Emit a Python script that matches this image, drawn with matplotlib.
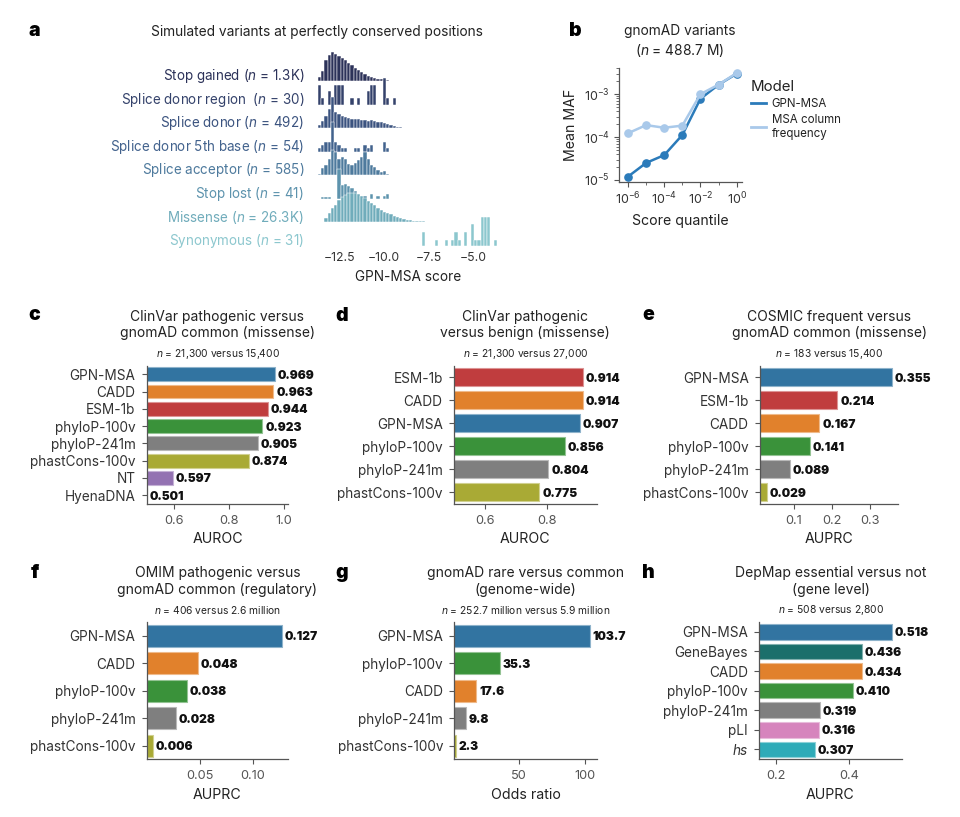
import numpy as np
import matplotlib
matplotlib.use("Agg")
import matplotlib.pyplot as plt
from matplotlib.lines import Line2D
from matplotlib.colors import to_rgb

FONT = "Inter"
plt.rcParams["font.family"] = [FONT, "DejaVu Sans"]
plt.rcParams["mathtext.fontset"] = "custom"
plt.rcParams["mathtext.rm"] = FONT
plt.rcParams["mathtext.it"] = FONT + ":italic"
plt.rcParams["mathtext.bf"] = FONT + ":bold"

# ---------------- data ----------------
# panel a: histogram bar heights per consequence (relative units)
variant_labels = [
    "Stop gained ($n$ = 1.3K)",
    "Splice donor region  ($n$ = 30)",
    "Splice donor ($n$ = 492)",
    "Splice donor 5th base ($n$ = 54)",
    "Splice acceptor ($n$ = 585)",
    "Stop lost ($n$ = 41)",
    "Missense ($n$ = 26.3K)",
    "Synonymous ($n$ = 31)",
]
stop_gained = [4, 10, 21, 26, 29, 27, 25, 23, 21, 18, 16, 13, 11, 9, 7, 5, 4, 3, 2.5, 2,
               1.5, 0.7, 0.3, 0, 0.3, 0, 0.3]
splice_donor_region = [20, 7, 0, 14, 0, 20, 20, 20, 0, 0, 7, 0, 7, 0, 0, 14, 20, 20, 0, 0,
                       27, 7, 0, 7]
splice_donor = [3, 7, 12, 19, 31, 16, 14, 12, 11, 10, 9, 9.5, 9, 8.5, 8, 7.5, 8, 7, 6.5, 6,
                5.5, 4.5, 3.5, 2.5, 1.5, 1, 0.5, 0, 0, 0.5, 0, 0, 0, 0, 0, 0.5]
splice_donor_5th = [3.3, 6.6, 10, 10, 30, 10, 6.6, 3.3, 3.3, 0, 0, 3.3, 3.3, 0, 6.6, 3.3,
                    6.6, 0, 0, 0, 10, 3.3]
splice_acceptor = [1.7, 7.3, 10, 16.7, 25, 23, 16.7, 18, 16.7, 11.7, 10.7, 12.7, 15, 18, 23,
                   16.7, 10.7, 8.3, 5, 3.3, 4, 1.7, 0.7, 0.7, 0, 0, 0, 0, 0, 0, 0, 0, 0.4,
                   0, 0, 0.4]
stop_lost = [0, 2.3, 2.3, 2.3, 0, 0, 30, 14, 15, 13, 11, 7.5, 5, 2.5, 2.5, 0, 5, 0, 2.5, 0,
             2.5, 5]
missense = [0, 0.7, 4, 9, 14, 17.3, 22, 25.7, 27.3, 29, 29, 29, 28, 26.7, 24, 21.3, 19, 17.3,
            14.7, 12.3, 10.7, 9, 8, 6.7, 5.3, 4, 3.3, 2.7, 2, 1.7, 1.3, 1.2, 1.0, 0.8, 0.7,
            0.6, 0.5, 0.4, 0.3, 0.2, 0.15]
synonymous = [0] * 32 + [14, 0, 0, 0, 6.3, 0, 0, 6.3, 0, 6.3, 14, 6.3, 0, 14, 0, 21.7, 6.3,
                         6.3, 29, 29, 29, 0, 6.3]
ridge_rows = [stop_gained, splice_donor_region, splice_donor, splice_donor_5th,
              splice_acceptor, stop_lost, missense, synonymous]
ridge_colors = ["#2c3259", "#34426b", "#3b537f", "#42628d", "#4e7a9d", "#5d93ad",
                "#70acbb", "#8cc7ce"]
score_ticks = [-12.5, -10.0, -7.5, -5.0]

# panel b
quantiles = [1e-6, 1e-5, 1e-4, 1e-3, 1e-2, 1e-1, 1e0]
maf_gpn = [1.2e-5, 2.5e-5, 3.8e-5, 1.12e-4, 7.8e-4, 1.66e-3, 3.0e-3]
maf_msa = [1.23e-4, 1.9e-4, 1.65e-4, 1.85e-4, 1.0e-3, 1.67e-3, 3.1e-3]

# panels c-h
model_colors = {
    "GPN-MSA": "#3274a1", "CADD": "#e1812c", "ESM-1b": "#c03d3e",
    "phyloP-100v": "#3a923a", "phyloP-241m": "#7f7f7f", "phastCons-100v": "#a9aa35",
    "NT": "#9372b2", "HyenaDNA": "#845b53", "GeneBayes": "#1b6f6b",
    "pLI": "#d684bd", "hs": "#2eabb8",
}
c_models = ["GPN-MSA", "CADD", "ESM-1b", "phyloP-100v", "phyloP-241m", "phastCons-100v",
            "NT", "HyenaDNA"]
c_vals = [0.969, 0.963, 0.944, 0.923, 0.905, 0.874, 0.597, 0.501]
d_models = ["ESM-1b", "CADD", "GPN-MSA", "phyloP-100v", "phyloP-241m", "phastCons-100v"]
d_vals = [0.914, 0.914, 0.907, 0.856, 0.804, 0.775]
e_models = ["GPN-MSA", "ESM-1b", "CADD", "phyloP-100v", "phyloP-241m", "phastCons-100v"]
e_vals = [0.355, 0.214, 0.167, 0.141, 0.089, 0.029]
f_models = ["GPN-MSA", "CADD", "phyloP-100v", "phyloP-241m", "phastCons-100v"]
f_vals = [0.127, 0.048, 0.038, 0.028, 0.006]
g_models = ["GPN-MSA", "phyloP-100v", "CADD", "phyloP-241m", "phastCons-100v"]
g_vals = [103.7, 35.3, 17.6, 9.8, 2.3]
h_models = ["GPN-MSA", "GeneBayes", "CADD", "phyloP-100v", "phyloP-241m", "pLI", "hs"]
h_vals = [0.518, 0.436, 0.434, 0.410, 0.319, 0.316, 0.307]

# ---------------- figure ----------------
W, H = 960, 817
fig = plt.figure(figsize=(9.6, 8.17), dpi=100)
DARK = "#222222"
GREY = "#555555"


def px_ax(l, t, r, b):
    return fig.add_axes([l / W, 1 - b / H, (r - l) / W, (b - t) / H])


def ftext(x, y, s, **kw):
    kw.setdefault("color", DARK)
    return fig.text(x / W, 1 - y / H, s, **kw)


def letter(x, y, s):
    ftext(x, y, s, fontsize=14, fontweight="black", ha="center", va="baseline",
          color="black")


def lighten(c, f=0.45):
    r = np.array(to_rgb(c))
    return tuple(r + (1 - r) * f)


# ---- panel a ----
ROW_PX = 23.57
axa = px_ax(316, 40, 500, 248)
nbins = 55
bw = 10.0 / nbins
for i, (hts, col) in enumerate(zip(ridge_rows, ridge_colors)):
    hts = np.array(hts, dtype=float)
    centers = -13.7 + bw * (np.arange(len(hts)) + 0.5)
    keep = hts > 0
    axa.bar(centers[keep], hts[keep] / ROW_PX, width=bw, bottom=-i, color=col,
            edgecolor="white", linewidth=0.35, zorder=2 + i)
    axa.text(-0.065, -i + 5 / ROW_PX, variant_labels[i], transform=axa.get_yaxis_transform(),
             ha="right", va="center", fontsize=9.7, color=col)
axa.set_xlim(-13.8, -3.52)
axa.set_ylim(-7 - 2 / ROW_PX, 41 / ROW_PX)
axa.set_yticks([])
for s in axa.spines.values():
    s.set_visible(False)
axa.set_xticks(score_ticks, [f"{t:.1f}".replace("-", "\u2212") for t in score_ticks])
axa.tick_params(axis="x", length=0, pad=3, labelsize=8.8, labelcolor="#333333")
axa.set_xlabel("GPN-MSA score", fontsize=9.8, color=DARK, labelpad=4)
ftext(317, 32, "Simulated variants at perfectly conserved positions", fontsize=9.9,
      ha="center", va="center")
letter(34, 36, "a")

# ---- panel b ----
axb = px_ax(619, 68, 741.7, 181.7)
c_gpn, c_msa = "#2b7bba", "#a9c9ea"
axb.plot(quantiles, maf_gpn, "-o", color=c_gpn, lw=1.8, ms=5.2, zorder=3)
axb.plot(quantiles, maf_msa, "-o", color=c_msa, lw=1.8, ms=5.2, zorder=4)
axb.set_xscale("log")
axb.set_yscale("log")
axb.set_xlim(10 ** -6.5, 10 ** 0.28)
axb.set_ylim(10 ** -5.04, 10 ** -2.39)
axb.set_xticks([1e-6, 1e-4, 1e-2, 1e0])
axb.set_xticks([1e-5, 1e-3, 1e-1], minor=True)
axb.set_yticks([1e-5, 1e-4, 1e-3])
for s in ["top", "right"]:
    axb.spines[s].set_visible(False)
for s in ["left", "bottom"]:
    axb.spines[s].set_color(GREY)
    axb.spines[s].set_linewidth(0.9)
axb.tick_params(which="both", color=GREY, labelsize=9, labelcolor="#333333")
axb.tick_params(which="major", length=3.5, pad=3)
axb.tick_params(which="minor", length=2)
axb.tick_params(axis="x", which="minor", labelbottom=False)
axb.set_xlabel("Score quantile", fontsize=10.2, color=DARK, labelpad=5)
axb.set_ylabel("Mean MAF", fontsize=10.2, color=DARK, labelpad=4)
ftext(680, 41.5, "gnomAD variants\n($n$ = 488.7 M)", fontsize=9.9, ha="center",
      va="center", linespacing=1.25)
letter(575, 36, "b")
handles = [Line2D([], [], color=c_gpn, lw=2), Line2D([], [], color=c_msa, lw=2)]
leg = axb.legend(handles, ["GPN-MSA", "MSA column\nfrequency"], title="Model",
                 loc="upper left", bbox_to_anchor=(751 / W, 1 - 80 / H),
                 bbox_transform=fig.transFigure, frameon=False, fontsize=8.3,
                 title_fontsize=10.8, alignment="left", handlelength=1.3,
                 handletextpad=0.5, labelspacing=0.35, borderpad=0, borderaxespad=0)
for t in leg.get_texts():
    t.set_color(DARK)
leg.get_title().set_color(DARK)


# ---- bar panels ----
def bar_panel(rect, models, vals, xmin, xticks, xticklabels, xlabel, title, ntext, fmt,
              italic=()):
    ax = px_ax(*rect)
    ypos = np.arange(len(models))
    cols = [model_colors[m] for m in models]
    ax.barh(ypos, vals, height=0.8, color=cols, edgecolor=[lighten(c) for c in cols],
            linewidth=0.8)
    ax.set_ylim(len(models) - 0.5, -0.5)
    ax.set_xlim(xmin, max(vals) * 1.05)
    ax.set_yticks(ypos, models)
    ax.set_xticks(xticks, xticklabels)
    for lab in ax.get_yticklabels():
        if lab.get_text() in italic:
            lab.set_fontstyle("italic")
    for y, v in zip(ypos, vals):
        ax.annotate(fmt.format(v), (max(v, xmin), y), xytext=(2, 0),
                    textcoords="offset points", ha="left", va="center_baseline",
                    fontsize=8.6, fontweight="black", color="#111111")
    for s in ["top", "right"]:
        ax.spines[s].set_visible(False)
    for s in ["left", "bottom"]:
        ax.spines[s].set_color(GREY)
        ax.spines[s].set_linewidth(0.9)
    ax.tick_params(axis="y", length=3.6, color=GREY, pad=4.5, labelsize=9.8,
                   labelcolor="#333333")
    ax.tick_params(axis="x", length=3.5, color=GREY, pad=4.5, labelsize=9.2,
                   labelcolor=GREY)
    ax.set_xlabel(xlabel, fontsize=10.2, color=DARK, labelpad=4)
    cx = (rect[0] + rect[2]) / 2
    top = rect[1]
    ftext(cx, top - 40.5, title, fontsize=10, ha="center", va="center", linespacing=1.2)
    ftext(cx, top - 12, ntext, fontsize=7.4, ha="center", va="center")
    return ax


bar_panel((146.7, 365.6, 288.3, 503.8), c_models, c_vals, 0.5, [0.6, 0.8, 1.0],
          ["0.6", "0.8", "1.0"], "AUROC",
          "ClinVar pathogenic versus\ngnomAD common (missense)",
          "$n$ = 21,300 versus 15,400", "{:.3f}")
bar_panel((454, 365.6, 596.7, 503.8), d_models, d_vals, 0.5, [0.6, 0.8],
          ["0.6", "0.8"], "AUROC",
          "ClinVar pathogenic\nversus benign (missense)",
          "$n$ = 21,300 versus 27,000", "{:.3f}")
bar_panel((760, 365.6, 898.3, 503.8), e_models, e_vals, 183 / (183 + 15400),
          [0.1, 0.2, 0.3], ["0.1", "0.2", "0.3"], "AUPRC",
          "COSMIC frequent versus\ngnomAD common (missense)",
          "$n$ = 183 versus 15,400", "{:.3f}")
bar_panel((146.7, 622, 288.3, 759.3), f_models, f_vals, 406 / (406 + 2.6e6),
          [0.05, 0.10], ["0.05", "0.10"], "AUPRC",
          "OMIM pathogenic versus\ngnomAD common (regulatory)",
          "$n$ = 406 versus 2.6 million", "{:.3f}")
bar_panel((454.3, 622, 596.7, 759.3), g_models, g_vals, 1.0, [50, 100],
          ["50", "100"], "Odds ratio",
          "gnomAD rare versus common\n(genome-wide)",
          "$n$ = 252.7 million versus 5.9 million", "{:.1f}")
bar_panel((759.3, 622, 901.7, 759.3), h_models, h_vals, 508 / (508 + 2800),
          [0.2, 0.4], ["0.2", "0.4"], "AUPRC",
          "DepMap essential versus not\n(gene level)",
          "$n$ = 508 versus 2,800", "{:.3f}", italic=("hs",))

letter(34, 320, "c")
letter(342, 321, "d")
letter(648, 320, "e")
letter(35, 578, "f")
letter(342, 578, "g")
letter(648, 578, "h")

fig.savefig("out.png", dpi=100, facecolor="white")
